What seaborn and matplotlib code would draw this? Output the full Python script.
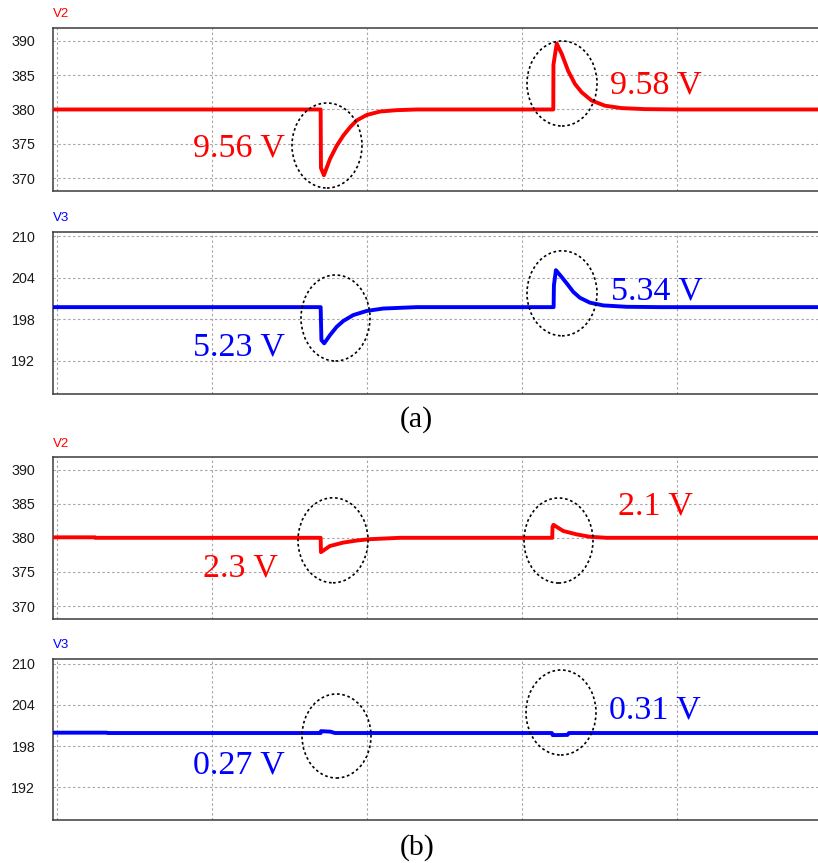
import numpy as np
import pandas as pd
import matplotlib
matplotlib.use("Agg")
import matplotlib.pyplot as plt
from matplotlib.patches import Ellipse
import seaborn as sns

# ---------------- data ----------------
# (a) V2
t_v2a = [-0.05, 1.698, 1.700, 1.719, 1.758, 1.801, 1.844, 1.887, 1.930, 1.995, 2.081, 2.188, 2.317,
         3.199, 3.200, 3.221, 3.253, 3.295, 3.339, 3.382, 3.446, 3.532, 3.640, 3.790, 4.016, 5.10]
v_v2a = [380.0, 380.0, 371.5, 370.44, 372.8, 374.7, 376.2, 377.4, 378.4, 379.2, 379.7, 379.9, 380.0,
         380.0, 386.5, 389.58, 388.1, 385.6, 383.7, 382.5, 381.3, 380.55, 380.2, 380.05, 380.0, 380.0]
# (a) V3
t_v3a = [-0.05, 1.698, 1.703, 1.721, 1.758, 1.801, 1.844, 1.908, 1.995, 2.102, 2.317,
         3.201, 3.203, 3.216, 3.253, 3.285, 3.328, 3.371, 3.435, 3.521, 3.672, 3.890, 5.10]
v_v3a = [199.75, 199.75, 195.0, 194.52, 195.7, 196.9, 197.75, 198.6, 199.2, 199.55, 199.75,
         199.75, 202.9, 205.09, 204.1, 203.2, 201.95, 201.1, 200.4, 200.0, 199.8, 199.75, 199.75]
# (b) V2
t_v2b = [-0.05, 0.242, 0.245, 1.698, 1.700, 1.758, 1.844, 1.930, 2.016, 2.210,
         3.192, 3.194, 3.200, 3.263, 3.350, 3.435, 3.543, 5.10]
v_v2b = [380.07, 380.07, 380.0, 380.0, 377.9, 378.8, 379.3, 379.6, 379.8, 380.0,
         380.0, 381.6, 381.9, 381.0, 380.5, 380.15, 380.0, 380.0]
# (b) V3
t_v3b = [-0.05, 0.320, 0.323, 1.698, 1.700, 1.760, 1.790, 3.190, 3.195, 3.290, 3.300, 5.10]
v_v3b = [199.95, 199.95, 199.9, 199.9, 200.17, 200.1, 199.9, 199.9, 199.59, 199.62, 199.9, 199.9]

v2_ticks = [370, 375, 380, 385, 390]
v3_ticks = [192, 198, 204, 210]
grid_t = [0, 1, 2, 3, 4, 5]

# annotation texts
ann_a_v2 = ["9.56 V", "9.58 V"]
ann_a_v3 = ["5.23 V", "5.34 V"]
ann_b_v2 = ["2.3 V", "2.1 V"]
ann_b_v3 = ["0.27 V", "0.31 V"]

# ---------------- style ----------------
sns.set_style("white")
plt.rcParams["font.family"] = ["Liberation Sans", "DejaVu Sans"]

W, H = 818, 863
fig = plt.figure(figsize=(W / 100, H / 100), dpi=100)
fig.patch.set_facecolor("white")

RED = "#ff0000"
BLUE = "#0000ff"
LEFT_PX, RIGHT_PX = 52.5, 834.0
XLIM = (-0.032, 5.01)


def add_panel(top_px, bot_px, t, v, color, ylim, yticks, name, name_base_px):
    ax = fig.add_axes([LEFT_PX / W, 1 - bot_px / H, (RIGHT_PX - LEFT_PX) / W, (bot_px - top_px) / H])
    df = pd.DataFrame({"t": t, "v": v})
    sns.lineplot(data=df, x="t", y="v", ax=ax, color=color, linewidth=2.8,
                 estimator=None, sort=False, zorder=3)
    ax.set_xlim(*XLIM)
    ax.set_ylim(*ylim)
    ax.set_xticks(grid_t)
    ax.set_yticks(yticks)
    ax.set_yticklabels([str(y) for y in yticks])
    ax.tick_params(axis="x", labelbottom=False, length=0)
    ax.tick_params(axis="y", length=0, pad=12.5, labelsize=10.3, labelcolor="#1a1a1a")
    ax.set_xlabel("")
    ax.set_ylabel("")
    ax.grid(True, color="#a6a6a6", linestyle=(0, (2.2, 2.2)), linewidth=0.8, zorder=0)
    for s in ["top", "left", "bottom"]:
        ax.spines[s].set_color("#3c3c3c")
        ax.spines[s].set_linewidth(1.1)
    ax.spines["right"].set_visible(False)
    fig.text(LEFT_PX / W, 1 - name_base_px / H, name, color=color, fontsize=9.5,
             ha="left", va="baseline")
    return ax


add_panel(28.3, 191.0, t_v2a, v_v2a, RED, (368.15, 391.8), v2_ticks, "V2", 17.3)
add_panel(231.7, 394.0, t_v3a, v_v3a, BLUE, (187.2, 210.65), v3_ticks, "V3", 220.7)
add_panel(457.3, 619.0, t_v2b, v_v2b, RED, (368.1, 391.8), v2_ticks, "V2", 446.7)
add_panel(658.7, 820.0, t_v3b, v_v3b, BLUE, (187.2, 210.75), v3_ticks, "V3", 648.3)

# dotted ellipses (figure pixel positions)
ellipses = [(327, 145.5, 70, 85), (562, 83.5, 70, 85),
            (335.5, 318, 69, 86), (562, 293.3, 70, 85),
            (333, 540.3, 70, 85), (558.5, 540.5, 69, 85),
            (336.5, 736, 69, 84), (561, 712.5, 70, 85)]
for cx, cy, w, h in ellipses:
    e = Ellipse((cx / W, 1 - cy / H), w / W, h / H, transform=fig.transFigure,
                fill=False, edgecolor="black", linewidth=1.2, linestyle=(0, (1.6, 1.6)), zorder=10)
    fig.add_artist(e)

serif = ["Liberation Serif", "DejaVu Serif"]
labels = [(ann_a_v2[0], 193, 156.7, RED), (ann_a_v2[1], 610, 93.3, RED),
          (ann_a_v3[0], 193.3, 355.3, BLUE), (ann_a_v3[1], 610.7, 299.3, BLUE),
          (ann_b_v2[0], 202.7, 576.0, RED), (ann_b_v2[1], 618.3, 514.0, RED),
          (ann_b_v3[0], 193.3, 773.3, BLUE), (ann_b_v3[1], 609.3, 718.3, BLUE)]
for s, x, y, c in labels:
    fig.text(x / W, 1 - y / H, s, color=c, fontsize=24.5, family=serif,
             ha="left", va="baseline", zorder=11)

fig.text(400 / W, 1 - 426.5 / H, "(a)", color="black", fontsize=21.5, family=serif,
         ha="left", va="baseline")
fig.text(400 / W, 1 - 854.5 / H, "(b)", color="black", fontsize=21.5, family=serif,
         ha="left", va="baseline")

fig.savefig("out.png", dpi=100, facecolor="white")
